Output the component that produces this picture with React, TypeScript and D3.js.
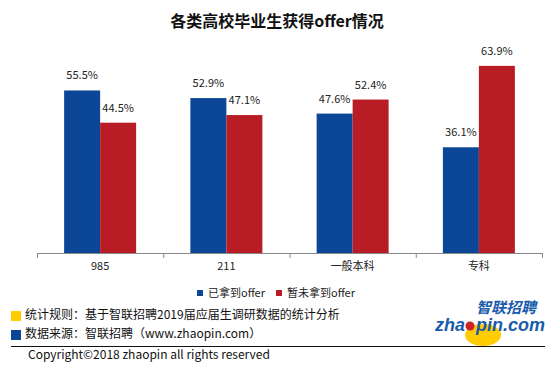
import React from 'react';
import * as d3 from 'd3';

const categories = ['985', '211', '一般本科', '专科'];
const seriesNames = ['已拿到offer', '暂未拿到offer'];
const gotOffer = [55.5, 52.9, 47.6, 36.1];
const noOffer = [44.5, 47.1, 52.4, 63.9];
const seriesColors = ['#0B4796', '#B81D25'];

const footNotes = [
  { text: '统计规则：基于智联招聘2019届应届生调研数据的统计分析', color: '#FFCC00' },
  { text: '数据来源：智联招聘（www.zhaopin.com）', color: '#0B4796' },
];

const W = 554;
const H = 374;
const font = '"Microsoft YaHei", "Noto Sans CJK SC", sans-serif';

export default function App() {
  // plot area
  const baseY = 253;
  const x = d3.scaleBand<string>().domain(categories).range([37, 542]).padding(0);
  const y = d3.scaleLinear().domain([0, 70]).range([baseY, baseY - 205]);
  const inner = d3.scaleBand<number>().domain([0, 1]).range([-36, 36]);

  const values = [gotOffer, noOffer];
  const tickXs = categories.map((c) => x(c) as number).concat([x.range()[1]]);

  return (
    <div style={{ position: 'absolute', left: 0, top: 0 }}>
      <svg width={W} height={H} style={{ display: 'block', background: '#fff' }}>
        <text x={277} y={27} textAnchor="middle" fontFamily={font} fontSize={16} fontWeight="bold" fill="#111">
          各类高校毕业生获得offer情况
        </text>

        {categories.map((c, i) => {
          const cx = (x(c) as number) + x.bandwidth() / 2;
          return (
            <g key={c}>
              {values.map((vals, s) => {
                const bx = cx + (inner(s) as number);
                const top = y(vals[i]);
                return (
                  <g key={s}>
                    <rect x={bx} y={top} width={inner.bandwidth()} height={baseY - top} fill={seriesColors[s]} />
                    <text x={bx + inner.bandwidth() / 2} y={top - 11} textAnchor="middle"
                      fontFamily={font} fontSize={11} fill="#222">
                      {vals[i].toFixed(1)}%
                    </text>
                  </g>
                );
              })}
              <text x={cx} y={270} textAnchor="middle" fontFamily={font} fontSize={11} fill="#222">{c}</text>
            </g>
          );
        })}

        {/* axis */}
        <line x1={37} x2={542} y1={baseY + 0.5} y2={baseY + 0.5} stroke="#888" />
        {tickXs.map((tx, i) => (
          <line key={i} x1={tx + 0.5} x2={tx + 0.5} y1={baseY} y2={baseY + 5} stroke="#888" />
        ))}

        {/* legend */}
        {seriesNames.map((name, i) => {
          const lx = [197, 276][i];
          return (
            <g key={name}>
              <rect x={lx} y={290} width={6} height={6} fill={seriesColors[i]} />
              <text x={lx + 11} y={297} fontFamily={font} fontSize={11} fill="#222">{name}</text>
            </g>
          );
        })}

        {/* foot notes */}
        {footNotes.map((f, i) => (
          <g key={i}>
            <rect x={11} y={311 + i * 19} width={10} height={10} fill={f.color} />
            <text x={25} y={319 + i * 19} fontFamily={font} fontSize={12} fill="#111">{f.text}</text>
          </g>
        ))}

        {/* logo */}
        <ellipse cx={483} cy={335} rx={18} ry={11} fill="#FFCC00" />
        <text x={476} y={313} fontFamily={font} fontSize={15} fontWeight="bold" fontStyle="italic" fill="#1A5BAA">
          智联招聘
        </text>
        <text x={435} y={331} fontFamily='"Liberation Sans", Arial, sans-serif' fontSize={18}
          fontWeight="bold" fontStyle="italic" fill="#1A5BAA">
          zha<tspan fill="none">o</tspan>pin.com
        </text>
        <circle cx={470} cy={326} r={4.5} fill="#D0202A" />

        <line x1={11} x2={545} y1={346.5} y2={346.5} stroke="#111" />
        <text x={28} y={359} fontFamily={font} fontSize={12} fill="#111">
          Copyright©2018 zhaopin all rights reserved
        </text>
      </svg>
    </div>
  );
}
